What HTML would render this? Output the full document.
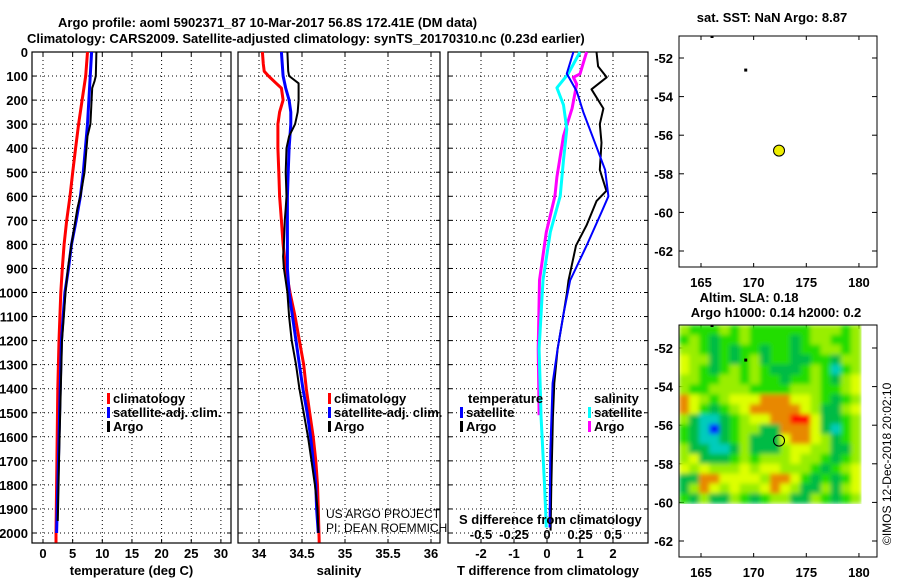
<!DOCTYPE html>
<html><head><meta charset="utf-8"><style>
body{margin:0;background:#fff}
svg{display:block}
text{font-family:"Liberation Sans",Arial,sans-serif;font-weight:bold;font-size:13px;fill:#000}
</style></head><body>
<svg id="s" width="900" height="580" viewBox="0 0 900 580" xmlns="http://www.w3.org/2000/svg">
<defs>
<filter id="soft" x="0" y="0" width="1" height="1" filterUnits="objectBoundingBox"><feGaussianBlur stdDeviation="2.5" edgeMode="duplicate"/></filter>
</defs>
<text x="58" y="27" font-size="14">Argo profile: aoml 5902371_87 10-Mar-2017 56.8S 172.41E (DM data)</text>
<text x="27" y="43" font-size="14">Climatology: CARS2009. Satellite-adjusted climatology: synTS_20170310.nc (0.23d earlier)</text>
</svg>
<script>
// ---- depth axis ----
const depthTicks=[0,100,200,300,400,500,600,700,800,900,1000,1100,1200,1300,1400,1500,1600,1700,1800,1900,2000];
// ---- temperature panel ----
const tTicks=[0,5,10,15,20,25,30];
const tClimD=[0,100,200,300,400,500,600,700,800,900,1000,1200,1400,1700,2000,2040];
const tClim=[7.5,7.2,6.6,6.0,5.5,5.0,4.55,4.0,3.55,3.25,3.0,2.7,2.5,2.35,2.2,2.2];
const tSatD=[0,300,500,600,700,800,900,1000,1200,1400,1600,1800,2000];
const tSat=[8.2,7.5,6.8,6.3,5.6,4.8,4.3,3.7,3.1,2.9,2.7,2.5,2.3];
const tArgoD=[0,100,120,150,300,350,500,600,650,800,900,1000,1100,1200,1300,1500,1700,1950];
const tArgo=[9.0,8.9,8.7,8.3,8.0,7.5,7.0,6.3,5.8,4.8,4.2,3.8,3.5,3.2,3.1,2.9,2.7,2.5];
// ---- salinity panel ----
const sTicks=[34,34.5,35,35.5,36];
const sClimD=[0,50,80,100,130,150,200,250,300,400,500,600,700,800,900,1000,1100,1200,1300,1400,1500,1600,1700,1800,1900,2040];
const sClim=[34.04,34.05,34.06,34.11,34.2,34.26,34.28,34.24,34.22,34.22,34.23,34.24,34.26,34.28,34.31,34.36,34.42,34.47,34.52,34.55,34.59,34.63,34.66,34.68,34.69,34.7];
const sSatD=[0,100,150,200,250,300,400,500,600,700,800,900,1000,1100,1200,1300,1400,1500,1600,1700,1800,1900,2000];
const sSat=[34.26,34.28,34.31,34.35,34.37,34.37,34.35,34.34,34.33,34.33,34.33,34.33,34.35,34.39,34.43,34.47,34.51,34.56,34.6,34.63,34.66,34.67,34.69];
const sArgoD=[0,80,100,130,200,250,300,350,400,500,600,650,700,800,850,900,950,1000,1100,1200,1300,1400,1500,1600,1700,1800,1900,2000];
const sArgo=[34.33,34.34,34.35,34.46,34.46,34.45,34.42,34.35,34.32,34.31,34.32,34.31,34.3,34.29,34.28,34.29,34.31,34.33,34.35,34.38,34.43,34.47,34.52,34.57,34.61,34.65,34.68,34.69];
// ---- difference panel ----
const dTicks=[-2,-1,0,1,2];
const dsTickLabels=["-0.5","-0.25","0","0.25","0.5"];
const dTArgoD=[0,60,105,155,235,300,377,490,577,620,720,805,950,1005,1090,1235,1377,1520,1805,1990];
const dTArgo=[1.5,1.55,1.81,1.35,1.71,1.6,1.65,1.6,1.8,1.5,1.2,0.88,0.65,0.6,0.5,0.32,0.22,0.18,0.13,0.11];
const dTSatD=[0,90,163,250,377,490,600,663,805,950,1090,1235,1377,1663,1977];
const dTSat=[0.8,0.6,0.9,1.1,1.45,1.76,1.86,1.66,1.2,0.7,0.5,0.32,0.17,0.1,0.08];
const dSArgoD=[0,91,105,134,234,349,520,599,749,949,1234,1510];
const dSArgo=[0.3,0.25,0.2,0.225,0.19,0.125,0.075,0.06,-0.005,-0.057,-0.067,-0.06];
const dSSatD=[0,91,149,220,320,449,599,749,949,1234,1520,1806,1977];
const dSSat=[0.25,0.16,0.075,0.125,0.15,0.125,0.1,0.025,-0.03,-0.06,-0.045,-0.018,-0.005];
// ---- maps ----
const lonTicks=[165,170,175,180];
const latTicks=[-52,-54,-56,-58,-60,-62];
const floatLon=172.41, floatLat=-56.8;
const slaCodes=[
"LGGGLGLGGGGGGLLLGL",
"GLGDGGLGGGGDGLLGGL",
"LLGDGDGGDGGDGGLLGL",
"YLLDGDGLDGGDDGGDLL",
"YLGDGLGLGDDDGLGCGL",
"LLGGLLGLGGDGGLGDLY",
"LGGLLLLGGGGLLLGGLY",
"OYLGLYYYOOOYYLGDGL",
"OYGDGLYOOOOOYLDDLY",
"LDCCDGLYYOORRYDDGL",
"GDCBDGLLDDOOOYDCGL",
"GDCCDGLDDDYOOYLDGL",
"LDDCCDLDDDLYYLLDDL",
"LYDDDGLGLLLYLLGDGL",
"YLYLLLYLYYLLLGDGLY",
"DDOOYYYYLOOYGDGDGY",
"DLOYLYLLYOYLDDLDLY",
"GDLDDLGDGLLDDLGDGL"];
const codeVal={B:-0.3,C:-0.2,D:-0.1,G:0,L:0.05,Y:0.1,O:0.2,R:0.3};
</script>
<script>
const NS="http://www.w3.org/2000/svg";
const svg=document.getElementById('s');
function mk(tag,attrs,parent){const e=document.createElementNS(NS,tag);for(const k in attrs)e.setAttribute(k,attrs[k]);(parent||svg).appendChild(e);return e;}
const yD=d=>52+d*0.2405;
const Y0=52,Y1=543;
function panel(name,x0,x1,xs,ticks,labels,xtitle,showY){
  const g=mk('g',{});
  
  
  depthTicks.forEach(d=>{const y=yD(d);
    const l=mk('line',{x1:x0,x2:x1,y1:y,y2:y,stroke:'#000','stroke-width':1,'stroke-dasharray':'1,3'},g);
    
    mk('line',{x1:x0,x2:x0+4,y1:y,y2:y,stroke:'#000'},g);
    mk('line',{x1:x1-4,x2:x1,y1:y,y2:y,stroke:'#000'},g);
    if(showY){const t=mk('text',{x:28,y:y+5,'text-anchor':'end'},g);t.textContent=d;
      }
  });
  ticks.forEach((v,i)=>{const x=xs(v);
    const l=mk('line',{x1:x,x2:x,y1:Y0,y2:Y1,stroke:'#000','stroke-dasharray':'1,3'},g);
    
    mk('line',{x1:x,x2:x,y1:Y0,y2:Y0+4,stroke:'#000'},g);
    mk('line',{x1:x,x2:x,y1:Y1-4,y2:Y1,stroke:'#000'},g);
    const t=mk('text',{x:x,y:558,'text-anchor':'middle'},g);t.textContent=labels[i];
    
  });
  const r=mk('rect',{x:x0,y:Y0,width:x1-x0,height:Y1-Y0,fill:'none',stroke:'#000','stroke-width':1.2},g);
  
  const t=mk('text',{x:(x0+x1)/2,y:575,'text-anchor':'middle'},g);t.textContent=xtitle;
  
  return g;
}
function series(g,name,xs,vals,depths,color,w){
  const pts=vals.map((v,i)=>xs(v).toFixed(1)+','+yD(depths[i]).toFixed(1)).join(' ');
  const p=mk('polyline',{points:pts,fill:'none',stroke:color,'stroke-width':w,'stroke-linejoin':'round'},g);
  
  
}
function legend(g,x,y,color,label,name){
  const b=mk('rect',{x:x,y:y-10,width:3,height:11,fill:color},g);
  
  if(label){const t=mk('text',{x:x+6,y:y},g);t.textContent=label;
  }
}
// panel 1
const xT=v=>43+v*5.93;
const g1=panel('temperature-panel',32,231,xT,tTicks,tTicks.map(String),'temperature (deg C)',true);
series(g1,'temperature-climatology-line',xT,tClim,tClimD,'#f00',3);
series(g1,'temperature-satellite-line',xT,tSat,tSatD,'#00f',3);
series(g1,'temperature-argo-line',xT,tArgo,tArgoD,'#000',2);
legend(g1,107,403,'#f00','climatology','legend-climatology');
legend(g1,107,417,'#00f','satellite-adj. clim.','legend-satellite');
legend(g1,107,431,'#000','Argo','legend-argo');
// panel 2
const xS=v=>259+(v-34)*86;
const g2=panel('salinity-panel',238,440,xS,sTicks,sTicks.map(String),'salinity',false);
series(g2,'salinity-climatology-line',xS,sClim,sClimD,'#f00',3);
series(g2,'salinity-satellite-line',xS,sSat,sSatD,'#00f',3);
series(g2,'salinity-argo-line',xS,sArgo,sArgoD,'#000',2);
legend(g2,328,403,'#f00','climatology','legend-climatology');
legend(g2,328,417,'#00f','satellite-adj. clim.','legend-satellite');
legend(g2,328,431,'#000','Argo','legend-argo');
[['US ARGO PROJECT',518,'project-credit'],['PI: DEAN ROEMMICH',532,'pi-credit']].forEach(a=>{
  const t=mk('text',{x:326,y:a[1],style:'font-weight:normal;font-size:12px'},g2);t.textContent=a[0];
  });
// panel 3
const xDT=v=>547+v*33;
const xDS=v=>547+v*132;
const g3=panel('difference-panel',448,648,xDT,dTicks,dTicks.map(String),'T difference from climatology',false);
series(g3,'salinity-argo-diff-line',xDS,dSArgo,dSArgoD,'#f0f',3);
series(g3,'salinity-satellite-diff-line',xDS,dSSat,dSSatD,'#0ff',3);
series(g3,'temperature-argo-diff-line',xDT,dTArgo,dTArgoD,'#000',2);
series(g3,'temperature-satellite-diff-line',xDT,dTSat,dTSatD,'#00f',2);
let t=mk('text',{x:468,y:403},g3);t.textContent='temperature';
t=mk('text',{x:594,y:403},g3);t.textContent='salinity';
legend(g3,460,417,'#00f','satellite','legend-t-satellite');
legend(g3,460,431,'#000','Argo','legend-t-argo');
legend(g3,588,417,'#0ff','satellite','legend-s-satellite');
legend(g3,588,431,'#f0f','Argo','legend-s-argo');
t=mk('text',{x:459,y:524},g3);t.textContent='S difference from climatology';
dTicks.forEach((v,i)=>{const tt=mk('text',{x:xDT(v),y:539,'text-anchor':'middle'},g3);tt.textContent=dsTickLabels[i];
  });
// maps
const LATPX=19.3;
const xL=v=>701+(v-165)*10.53;
const yL=v=>58+(-52-v)*LATPX;
function mapFrame(name,y0,y1,latRef){
  const g=mk('g',{});
  const yl=v=>latRef+(-52-v)*LATPX;
  latTicks.forEach(v=>{const y=yl(v);
    mk('line',{x1:679,x2:684,y1:y,y2:y,stroke:'#000'},g);
    mk('line',{x1:872,x2:877,y1:y,y2:y,stroke:'#000'},g);
    const tt=mk('text',{x:673,y:y+5,'text-anchor':'end'},g);tt.textContent=v;
    });
  lonTicks.forEach(v=>{const x=xL(v);
    mk('line',{x1:x,x2:x,y1:y0,y2:y0+4,stroke:'#000'},g);
    mk('line',{x1:x,x2:x,y1:y1-4,y2:y1,stroke:'#000'},g);
    const tt=mk('text',{x:x,y:y1+20,'text-anchor':'middle'},g);tt.textContent=v;
    });
  return g;
}
const gm1=mapFrame('sst-map',36,267,58);
const r1=mk('rect',{x:679,y:36,width:198,height:231,fill:'none',stroke:'#000'},gm1);

t=mk('text',{x:772,y:22,'text-anchor':'middle'},gm1);t.textContent='sat. SST: NaN Argo: 8.87';
let c=mk('circle',{cx:xL(floatLon),cy:yL(floatLat),r:5.5,fill:'#ee0',stroke:'#000'},gm1);
mk('rect',{x:xL(169.2)-1,y:yL(-52.6)-1,width:3,height:3,fill:'#000'},gm1);
mk('rect',{x:xL(166)-1,y:36,width:3,height:2,fill:'#000'},gm1);
// bottom map
const latRef2=348;
const yL2=v=>latRef2+(-52-v)*LATPX;
const gm2=mapFrame('sla-map',325,557,latRef2);
const cols=slaCodes[0].length, rows=slaCodes.length;
const lon0=162.9, lon1=180.2, lat0=-50.8, lat1=-60.05;
function slaColor(v){
  if(v<=-0.25)return '#0000ff';if(v<=-0.15)return '#00ccbb';if(v<=-0.05)return '#00bb44';
  if(v<=0.02)return '#22dd00';if(v<=0.07)return '#99ee00';if(v<=0.15)return '#ddff00';
  if(v<=0.25)return '#e88800';return '#ff0000';}
const hm=mk('g',{filter:'url(#soft)'},gm2);
slaCodes.forEach((row,ri)=>{for(let ci=0;ci<cols;ci++){
  const v=codeVal[row[ci]];
  const xa=xL(lon0+(lon1-lon0)*ci/cols), xb=xL(lon0+(lon1-lon0)*(ci+1)/cols);
  const ya=yL2(lat0+(lat1-lat0)*ri/rows), yb=yL2(lat0+(lat1-lat0)*(ri+1)/rows);
  const cell=mk('rect',{x:xa.toFixed(1),y:ya.toFixed(1),width:(xb-xa+0.5).toFixed(1),height:(yb-ya+0.5).toFixed(1),fill:slaColor(v)},hm);
  
  
}});
const r2=mk('rect',{x:679,y:325,width:198,height:232,fill:'none',stroke:'#000'},gm2);

c=mk('circle',{cx:xL(floatLon),cy:yL2(floatLat),r:5.5,fill:'none',stroke:'#000'},gm2);
mk('rect',{x:xL(169.2)-1,y:yL2(-52.6)-1,width:3,height:3,fill:'#000'},gm2);
mk('rect',{x:xL(166)-1,y:325,width:3,height:2,fill:'#000'},gm2);
t=mk('text',{x:749,y:302,'text-anchor':'middle'},gm2);t.textContent='Altim. SLA: 0.18';
t=mk('text',{x:776,y:317,'text-anchor':'middle'},gm2);t.textContent='Argo h1000: 0.14 h2000: 0.2';
t=mk('text',{x:0,y:0,style:'font-weight:normal;font-size:12px',transform:'translate(891,545) rotate(-90)'});t.textContent='©IMOS 12-Dec-2018 20:02:10';

</script>
</body></html>
